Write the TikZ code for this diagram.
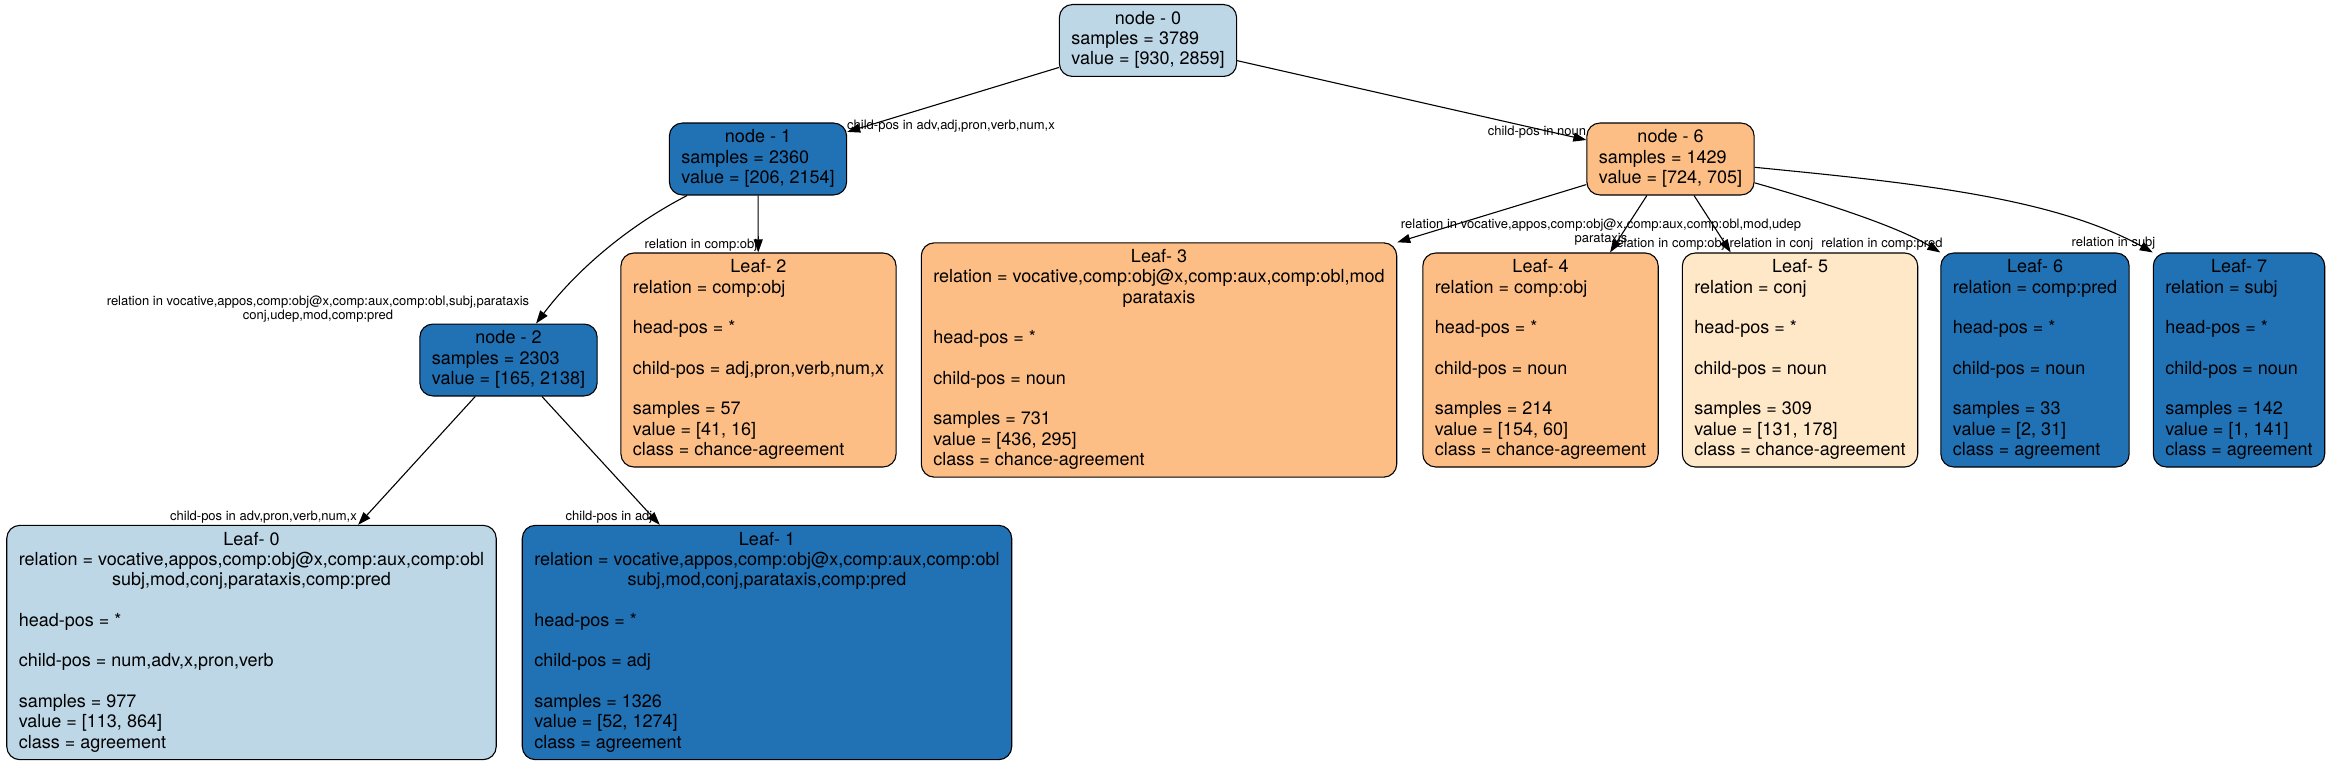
\documentclass[tikz,border=0pt]{standalone}
\usepackage{fontspec}
\setmainfont{TeX Gyre Heros}
\usetikzlibrary{arrows.meta}
\definecolor{bleuclair}{HTML}{BDD7E7}
\definecolor{bleufonce}{HTML}{2171B5}
\definecolor{orangemoyen}{HTML}{FDBE85}
\definecolor{orangepale}{HTML}{FEE8C8}
\newcommand{\titre}[1]{\multicolumn{1}{@{}c@{}}{#1}}
\begin{document}
\begin{tikzpicture}[x=1pt,y=-1pt]
\tikzstyle{fleche}=[-{Triangle[length=13pt,width=9pt]},line width=1.1pt]
\tikzstyle{noeud}=[draw,line width=1.1pt,rounded corners=13pt,inner xsep=12pt,inner ysep=5.5pt,font=\fontsize{18}{20.3}\selectfont]
\tikzstyle{feuille}=[noeud]
\tikzstyle{etiquette}=[font=\fontsize{13}{14.5}\selectfont,inner sep=0pt,align=center]
\def\NiveauA{40.5}
\def\NiveauB{159}
\def\NiveauC{360}
\def\NiveauD{642.5}
\useasboundingbox (0,0) rectangle (2330,765);
\node[noeud,fill=bleuclair] (R) at (1148,\NiveauA) {\begin{tabular}{@{}l@{}}\titre{node - 0}\\samples = 3789\\value = [930, 2859]\end{tabular}};
\node[noeud,fill=bleufonce] (Ra) at (758,\NiveauB) {\begin{tabular}{@{}l@{}}\titre{node - 1}\\samples = 2360\\value = [206, 2154]\end{tabular}};
\node[noeud,fill=orangemoyen] (Rb) at (1670.5,\NiveauB) {\begin{tabular}{@{}l@{}}\titre{node - 6}\\samples = 1429\\value = [724, 705]\end{tabular}};
\node[noeud,fill=bleufonce] (Raa) at (508.5,\NiveauC) {\begin{tabular}{@{}l@{}}\titre{node - 2}\\samples = 2303\\value = [165, 2138]\end{tabular}};
\node[feuille,fill=orangemoyen] (Rab) at (758.5,\NiveauC) {\begin{tabular}{@{}l@{}}\titre{Leaf- 2}\\relation = comp:obj\\\\head-pos = *\\\\child-pos = adj,pron,verb,num,x\\\\samples = 57\\value = [41, 16]\\class = chance-agreement\end{tabular}};
\node[feuille,fill=orangemoyen] (Rba) at (1159,\NiveauC) {\begin{tabular}{@{}l@{}}\titre{Leaf- 3}\\\titre{relation = vocative,comp:obj@x,comp:aux,comp:obl,mod}\\\titre{parataxis}\\\\head-pos = *\\\\child-pos = noun\\\\samples = 731\\value = [436, 295]\\class = chance-agreement\end{tabular}};
\node[feuille,fill=orangemoyen] (Rbb) at (1540.5,\NiveauC) {\begin{tabular}{@{}l@{}}\titre{Leaf- 4}\\relation = comp:obj\\\\head-pos = *\\\\child-pos = noun\\\\samples = 214\\value = [154, 60]\\class = chance-agreement\end{tabular}};
\node[feuille,fill=orangepale] (Rbc) at (1800,\NiveauC) {\begin{tabular}{@{}l@{}}\titre{Leaf- 5}\\relation = conj\\\\head-pos = *\\\\child-pos = noun\\\\samples = 309\\value = [131, 178]\\class = chance-agreement\end{tabular}};
\node[feuille,fill=bleufonce] (Rbd) at (2035,\NiveauC) {\begin{tabular}{@{}l@{}}\titre{Leaf- 6}\\relation = comp:pred\\\\head-pos = *\\\\child-pos = noun\\\\samples = 33\\value = [2, 31]\\class = agreement\end{tabular}};
\node[feuille,fill=bleufonce] (Rbe) at (2239,\NiveauC) {\begin{tabular}{@{}l@{}}\titre{Leaf- 7}\\relation = subj\\\\head-pos = *\\\\child-pos = noun\\\\samples = 142\\value = [1, 141]\\class = agreement\end{tabular}};
\node[feuille,fill=bleuclair] (Raaa) at (251.5,\NiveauD) {\begin{tabular}{@{}l@{}}\titre{Leaf- 0}\\\titre{relation = vocative,appos,comp:obj@x,comp:aux,comp:obl}\\\titre{subj,mod,conj,parataxis,comp:pred}\\\\head-pos = *\\\\child-pos = num,adv,x,pron,verb\\\\samples = 977\\value = [113, 864]\\class = agreement\end{tabular}};
\node[feuille,fill=bleufonce] (Raab) at (767,\NiveauD) {\begin{tabular}{@{}l@{}}\titre{Leaf- 1}\\\titre{relation = vocative,appos,comp:obj@x,comp:aux,comp:obl}\\\titre{subj,mod,conj,parataxis,comp:pred}\\\\head-pos = *\\\\child-pos = adj\\\\samples = 1326\\value = [52, 1274]\\class = agreement\end{tabular}};
\draw[fleche] (R)--(Ra);
\draw[fleche] (R)--(Rb);
\draw[fleche] (Ra) .. controls (626,227) and (575,272) .. (Raa);
\draw[fleche] (Ra)--(Rab);
\draw[fleche] (Raa)--(Raaa);
\draw[fleche] (Raa)--(Raab);
\draw[fleche] (Rb)--(Rba.north east);
\draw[fleche] (Rb)--(Rbb);
\draw[fleche] (Rb)--(Rbc);
\draw[fleche] (Rb) .. controls (1815,200) and (1895,225) .. (Rbd.north west);
\draw[fleche] (Rb) .. controls (1903,182) and (2051,196) .. (Rbe.north west);
\node[etiquette] (eRa) at (951,126) {child-pos in adv,adj,pron,verb,num,x};
\node[etiquette] (eRb) at (1537,132) {child-pos in noun};
\node[etiquette] (eRaa) at (318,309) {relation in vocative,appos,comp:obj@x,comp:aux,comp:obl,subj,parataxis\\conj,udep,mod,comp:pred};
\node[etiquette] (eRab) at (701,245) {relation in comp:obj};
\node[etiquette] (eRaaa) at (263.5,517) {child-pos in adv,pron,verb,num,x};
\node[etiquette] (eRaab) at (609,517) {child-pos in adj};
\node[etiquette] (eRba) at (1601,232) {relation in vocative,appos,comp:obj@x,comp:aux,comp:obl,mod,udep\\parataxis};
\node[etiquette] (eRbb) at (1668.5,244) {relation in comp:obj};
\node[etiquette] (eRbc) at (1771.5,244) {relation in conj};
\node[etiquette] (eRbd) at (1882,244) {relation in comp:pred};
\node[etiquette] (eRbe) at (2113.5,243) {relation in subj};
\end{tikzpicture}
\end{document}
